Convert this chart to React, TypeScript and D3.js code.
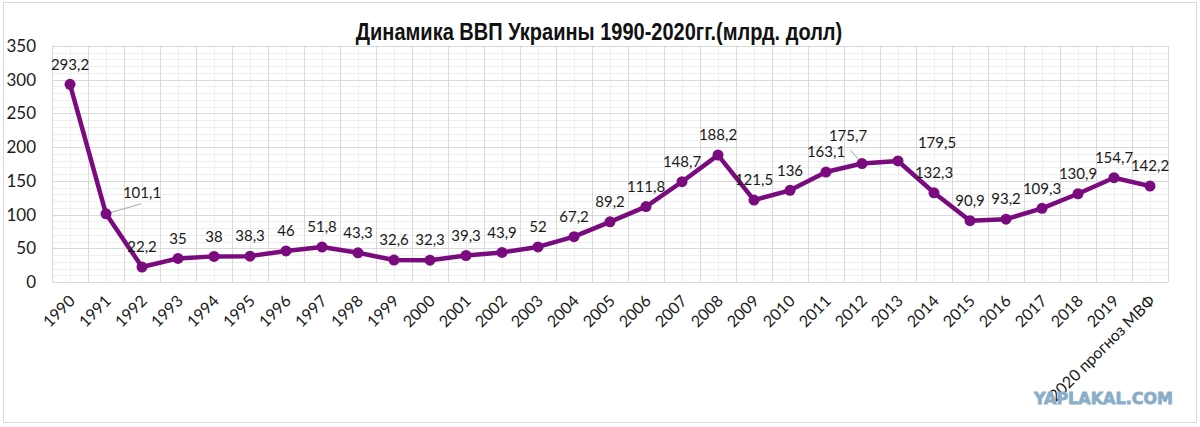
import React, { useEffect, useRef } from "react";
import * as d3 from "d3";

const categories = [
  "1990", "1991", "1992", "1993", "1994", "1995", "1996", "1997", "1998", "1999",
  "2000", "2001", "2002", "2003", "2004", "2005", "2006", "2007", "2008", "2009",
  "2010", "2011", "2012", "2013", "2014", "2015", "2016", "2017", "2018", "2019",
  "2020 прогноз МВФ",
];
const gdpValues = [
  293.2, 101.1, 22.2, 35, 38, 38.3, 46, 51.8, 43.3, 32.6,
  32.3, 39.3, 43.9, 52, 67.2, 89.2, 111.8, 148.7, 188.2, 121.5,
  136, 163.1, 175.7, 179.5, 132.3, 90.9, 93.2, 109.3, 130.9, 154.7,
  142.2,
];
const yTicks = [0, 50, 100, 150, 200, 250, 300, 350];
const titleText = "Динамика ВВП Украины 1990-2020гг.(млрд. долл)";
const watermark = "YAPLAKAL.COM";

// label placement style (offsets of label centre from point, in px)
const labelOffsets: Record<number, { dx: number; dy: number; leader?: [number, number] }> = {
  1: { dx: 36, dy: -21, leader: [35, -10] },
  22: { dx: -14, dy: -28, leader: [-12, -14] },
  23: { dx: 39, dy: -18 },
};

const W = 1200;
const H = 427;
const M = { left: 52, right: 1168, top: 46, bottom: 282 };
const PURPLE = "#790b7f";
const FONT = "Lato, 'Open Sans', sans-serif";

export default function App() {
  const ref = useRef<SVGSVGElement>(null);
  useEffect(() => {
    const svg = d3.select(ref.current);
    svg.selectAll("*").remove();

    svg.append("rect").attr("x", 0).attr("y", 0).attr("width", W).attr("height", H).attr("fill", "#fff");
    svg.append("rect").attr("x", 3.5).attr("y", 2.5).attr("width", 1193).attr("height", 420)
      .attr("fill", "none").attr("stroke", "#d9d9d9").attr("stroke-width", 1);

    const x = d3.scaleBand<string>().domain(categories).range([M.left, M.right]).padding(0);
    const y = d3.scaleLinear().domain([0, 350]).range([M.bottom, M.top]);
    const cx = (c: string) => (x(c) as number) + x.bandwidth() / 2;

    const g = svg.append("g");
    d3.range(0, 351, 10).forEach((v) => {
      if (v % 50 === 0) return;
      g.append("line").attr("x1", M.left).attr("x2", M.right)
        .attr("y1", Math.round(y(v)) + 0.5).attr("y2", Math.round(y(v)) + 0.5)
        .attr("stroke", "#eeeeee").attr("stroke-width", 1);
    });
    categories.forEach((c) => {
      const xx = Math.round(cx(c)) + 0.5;
      g.append("line").attr("x1", xx).attr("x2", xx).attr("y1", M.top).attr("y2", M.bottom)
        .attr("stroke", "#eeeeee").attr("stroke-width", 1);
    });
    yTicks.forEach((v) => {
      g.append("line").attr("x1", M.left).attr("x2", M.right)
        .attr("y1", Math.round(y(v)) + 0.5).attr("y2", Math.round(y(v)) + 0.5)
        .attr("stroke", "#d9d9d9").attr("stroke-width", 1);
    });
    [...categories.map((c) => x(c) as number), M.right].forEach((b) => {
      const xx = Math.round(b) + 0.5;
      g.append("line").attr("x1", xx).attr("x2", xx).attr("y1", M.top).attr("y2", M.bottom)
        .attr("stroke", "#d9d9d9").attr("stroke-width", 1);
    });

    // y tick labels
    svg.append("g").selectAll("text").data(yTicks).join("text")
      .attr("x", 36).attr("y", (d) => y(d)).attr("dy", "0.35em")
      .attr("text-anchor", "end").attr("font-family", FONT)
      .attr("font-size", 17).attr("fill", "#1a1a1a").text((d) => d);

    // x tick labels
    svg.append("g").selectAll("text").data(categories).join("text")
      .attr("transform", (d) => `translate(${cx(d) + 6},${M.bottom + 20}) rotate(-45)`)
      .attr("text-anchor", "end").attr("font-family", FONT)
      .attr("font-size", 16).attr("fill", "#1a1a1a").text((d) => d);

    // line
    const line = d3.line<number>().x((_, i) => cx(categories[i])).y((d) => y(d));
    svg.append("path").datum(gdpValues).attr("d", line).attr("fill", "none")
      .attr("stroke", PURPLE).attr("stroke-width", 4.5).attr("stroke-linejoin", "round");

    // leader lines
    gdpValues.forEach((v, i) => {
      const o = labelOffsets[i];
      if (o && o.leader) {
        svg.append("line").attr("x1", cx(categories[i])).attr("y1", y(v))
          .attr("x2", cx(categories[i]) + o.leader[0]).attr("y2", y(v) + o.leader[1])
          .attr("stroke", "#a6a6a6").attr("stroke-width", 1);
      }
    });

    // markers
    svg.append("g").selectAll("circle").data(gdpValues).join("circle")
      .attr("cx", (_, i) => cx(categories[i])).attr("cy", (d) => y(d)).attr("r", 5.5)
      .attr("fill", PURPLE);

    // data labels
    svg.append("g").selectAll("text").data(gdpValues).join("text")
      .attr("x", (_, i) => cx(categories[i]) + (labelOffsets[i]?.dx ?? 0))
      .attr("y", (d, i) => y(d) + (labelOffsets[i]?.dy ?? -20))
      .attr("dy", "0.35em").attr("text-anchor", "middle")
      .attr("font-family", FONT).attr("font-size", 15).attr("fill", "#1a1a1a")
      .text((d) => String(d).replace(".", ","));

    // title (condensed)
    svg.append("text").attr("transform", "translate(599,40) scale(0.87,1)").attr("text-anchor", "middle")
      .attr("font-family", "'Liberation Sans', Arial, sans-serif")
      .attr("font-weight", "bold").attr("font-size", 23).attr("fill", "#111").text(titleText);

    // watermark
    svg.append("text").attr("x", 1173).attr("y", 404).attr("text-anchor", "end")
      .attr("font-family", "'DejaVu Sans', sans-serif").attr("font-weight", "bold")
      .attr("font-size", 16).attr("fill", "#8aaec8").attr("stroke", "#8aaec8").attr("stroke-width", 0.8)
      .text(watermark);
  }, []);

  return (
    <svg ref={ref} width={W} height={H}
      style={{ position: "absolute", left: 0, top: 0, display: "block" }} />
  );
}
